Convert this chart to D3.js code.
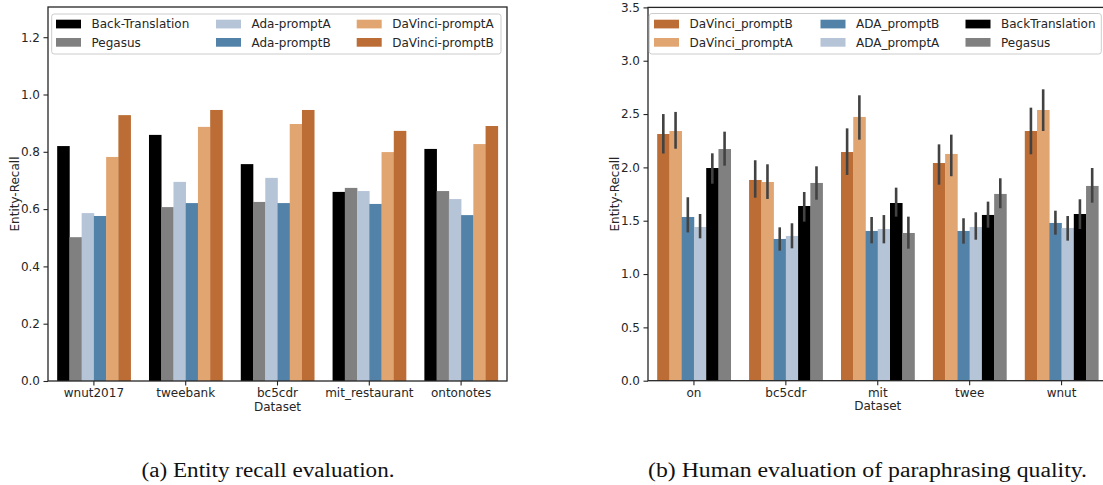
<!DOCTYPE html>
<html><head><meta charset="utf-8">
<script src="https://cdn.jsdelivr.net/npm/d3@7"></script>
<style>body{margin:0;background:#fff}svg{display:block}</style>
</head><body>
<script>
// ---------- Data: left chart (Entity recall) ----------
const leftCategories = ["wnut2017","tweebank","bc5cdr","mit_restaurant","ontonotes"];
const leftSeries = ["Back-Translation","Pegasus","Ada-promptA","Ada-promptB","DaVinci-promptA","DaVinci-promptB"];
const backTranslation = [0.820, 0.859, 0.757, 0.660, 0.810];
const pegasus         = [0.502, 0.607, 0.625, 0.674, 0.663];
const adaPromptA      = [0.586, 0.695, 0.709, 0.663, 0.635];
const adaPromptB      = [0.576, 0.621, 0.621, 0.618, 0.579];
const davinciPromptA  = [0.782, 0.887, 0.897, 0.799, 0.827];
const davinciPromptB  = [0.928, 0.946, 0.946, 0.873, 0.890];
const leftTicks = [0.0,0.2,0.4,0.6,0.8,1.0,1.2];

// ---------- Data: right chart (Human evaluation) ----------
const rightCategories = ["on","bc5cdr","mit","twee","wnut"];
const rightSeries = ["DaVinci_promptB","DaVinci_promptA","ADA_promptB","ADA_promptA","BackTranslation","Pegasus"];
const hDavB  = [2.313, 1.882, 2.144, 2.041, 2.341];
const hDavBLo= [2.13, 1.716, 1.929, 1.838, 2.123];
const hDavBHi= [2.50, 2.067, 2.366, 2.216, 2.560];
const hDavA  = [2.341, 1.863, 2.473, 2.126, 2.538];
const hDavALo= [2.175, 1.704, 2.260, 1.917, 2.341];
const hDavAHi= [2.52, 2.029, 2.676, 2.307, 2.732];
const hAdaB  = [1.535, 1.329, 1.404, 1.404, 1.479];
const hAdaBLo= [1.39, 1.219, 1.288, 1.285, 1.369];
const hAdaBHi= [1.72, 1.438, 1.535, 1.523, 1.594];
const hAdaA  = [1.441, 1.357, 1.422, 1.441, 1.432];
const hAdaALo= [1.335, 1.241, 1.288, 1.322, 1.313];
const hAdaAHi= [1.563, 1.476, 1.553, 1.579, 1.544];
const hBT    = [1.994, 1.638, 1.666, 1.554, 1.563];
const hBTLo  = [1.847, 1.491, 1.538, 1.435, 1.422];
const hBTHi  = [2.132, 1.769, 1.81, 1.679, 1.701];
const hPeg   = [2.172, 1.854, 1.385, 1.751, 1.826];
const hPegLo = [2.016, 1.697, 1.238, 1.617, 1.669];
const hPegHi = [2.335, 2.010, 1.538, 1.898, 1.994];
const rightTicks = [0.0,0.5,1.0,1.5,2.0,2.5,3.0,3.5];

const C = {black:"#000000", gray:"#808080", adaA:"#b6c4d8", adaB:"#5382a8", davA:"#e1a572", davB:"#bb6d35"};
const leftColors = [C.black, C.gray, C.adaA, C.adaB, C.davA, C.davB];
const rightColors = [C.davB, C.davA, C.adaB, C.adaA, C.black, C.gray];

const leftValues = [backTranslation, pegasus, adaPromptA, adaPromptB, davinciPromptA, davinciPromptB];
const rightMeans = [hDavB, hDavA, hAdaB, hAdaA, hBT, hPeg];
const rightLo = [hDavBLo, hDavALo, hAdaBLo, hAdaALo, hBTLo, hPegLo];
const rightHi = [hDavBHi, hDavAHi, hAdaBHi, hAdaAHi, hBTHi, hPegHi];

const W = 1103, H = 485;
const svg = d3.select("body").append("svg").attr("width", W).attr("height", H);
const FONT = "DejaVu Sans, sans-serif";
const TXT = "#262626";

function drawChart(opt) {
  const {x0, x1, y0, y1, ymax, cats, series, colors, values, lo, hi, ticks, legendCols, legendBox} = opt;
  const g = svg.append("g");
  const x = d3.scaleBand().domain(cats).range([x0, x1]).paddingInner(0.2).paddingOuter(0.1);
  const xs = d3.scaleBand().domain(d3.range(series.length)).range([0, x.bandwidth()]);
  const y = d3.scaleLinear().domain([0, ymax]).range([y1, y0]);

  // bars
  series.forEach((s, si) => {
    g.append("g").selectAll("rect").data(cats).join("rect")
      .attr("x", (c) => x(c) + xs(si))
      .attr("width", xs.bandwidth() + 0.3)
      .attr("y", (c, i) => y(values[si][i]))
      .attr("height", (c, i) => y(0) - y(values[si][i]))
      .attr("fill", colors[si]);
  });
  // error bars
  if (lo) {
    series.forEach((s, si) => {
      g.append("g").selectAll("line").data(cats).join("line")
        .attr("x1", (c) => x(c) + xs(si) + xs.bandwidth() / 2)
        .attr("x2", (c) => x(c) + xs(si) + xs.bandwidth() / 2)
        .attr("y1", (c, i) => y(lo[si][i]))
        .attr("y2", (c, i) => y(hi[si][i]))
        .attr("stroke", "#424242").attr("stroke-width", 2.6);
    });
  }
  // axes
  const ya = g.append("g").attr("transform", `translate(${x0},0)`)
    .call(d3.axisLeft(y).tickValues(ticks).tickFormat(d3.format(".1f")).tickSize(4.5).tickPadding(3.5));
  const xa = g.append("g").attr("transform", `translate(0,${y1})`)
    .call(d3.axisBottom(x).tickSize(4.5).tickPadding(3));
  [ya, xa].forEach(a => {
    a.select(".domain").remove();
    a.selectAll("line").attr("stroke", TXT).attr("stroke-width", 1.1);
    a.selectAll("text").attr("font-family", FONT).attr("font-size", 12).attr("fill", TXT);
  });
  // frame
  g.append("rect").attr("x", x0).attr("y", y0).attr("width", x1 - x0).attr("height", y1 - y0)
    .attr("fill", "none").attr("stroke", TXT).attr("stroke-width", 1.3);
  // labels
  g.append("text").attr("x", (x0 + x1) / 2).attr("y", y1 + 29.5).attr("text-anchor", "middle")
    .attr("font-family", FONT).attr("font-size", 12).attr("fill", TXT).text("Dataset");
  g.append("text").attr("transform", `translate(${x0 - 33},${(y0 + y1) / 2}) rotate(-90)`)
    .attr("text-anchor", "middle").attr("dy", "0.35em")
    .attr("font-family", FONT).attr("font-size", 12).attr("fill", TXT).text("Entity-Recall");

  // legend
  const lb = legendBox;
  g.append("rect").attr("x", lb.x).attr("y", lb.y).attr("width", lb.w).attr("height", lb.h)
    .attr("rx", 2.5).attr("fill", "#fff").attr("fill-opacity", 0.8)
    .attr("stroke", "#cccccc").attr("stroke-width", 1);
  series.forEach((s, si) => {
    const col = Math.floor(si / 2), row = si % 2;
    const px = legendCols[col], py = lb.rows[row];
    g.append("rect").attr("x", px).attr("y", py - 4.3).attr("width", 25).attr("height", 8.7)
      .attr("fill", colors[si]);
    g.append("text").attr("x", px + 35.5).attr("y", py).attr("dy", "0.35em")
      .attr("font-family", FONT).attr("font-size", 12).attr("fill", TXT).text(s);
  });
}

drawChart({
  x0: 48, x1: 507, y0: 7, y1: 381, ymax: 1.3054,
  cats: leftCategories, series: leftSeries, colors: leftColors, values: leftValues,
  ticks: leftTicks, legendCols: [56, 216, 356.7],
  legendBox: {x: 51.7, y: 14, w: 449.3, h: 40, rows: [24, 42.3]}
});
drawChart({
  x0: 648, x1: 1107.5, y0: 7.4, y1: 380.7, ymax: 3.5,
  cats: rightCategories, series: rightSeries, colors: rightColors, values: rightMeans,
  lo: rightLo, hi: rightHi,
  ticks: rightTicks, legendCols: [654, 820.5, 965.5],
  legendBox: {x: 649.3, y: 13.5, w: 452, h: 40.5, rows: [24, 42.3]}
});

// captions
svg.append("text").attr("x", 141.5).attr("y", 477)
  .attr("textLength", 253).attr("lengthAdjust", "spacingAndGlyphs")
  .attr("font-family", "Liberation Serif, serif").attr("font-size", 20).attr("fill", "#111")
  .text("(a) Entity recall evaluation.");
svg.append("text").attr("x", 648).attr("y", 477)
  .attr("textLength", 439).attr("lengthAdjust", "spacingAndGlyphs")
  .attr("font-family", "Liberation Serif, serif").attr("font-size", 20).attr("fill", "#111")
  .text("(b) Human evaluation of paraphrasing quality.");
</script>
</body></html>
